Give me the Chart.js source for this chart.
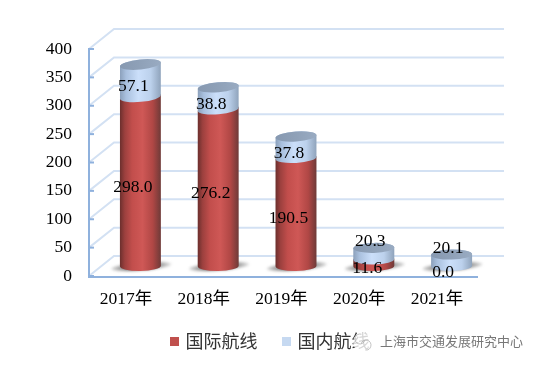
<!DOCTYPE html>
<html><head><meta charset="utf-8">
<script src="https://cdn.jsdelivr.net/npm/chart.js@4"></script>
<style>html,body{margin:0;padding:0;background:#fff}canvas{display:block}</style>
</head><body><canvas id="c" width="540" height="367"></canvas>
<script>
const categories = ['2017年','2018年','2019年','2020年','2021年'];
const international = [298.0,276.2,190.5,11.6,0.0];
const domestic = [57.1,38.8,37.8,20.3,20.1];
const yTicks = [0,50,100,150,200,250,300,350,400];
const watermark = '上海市交通发展研究中心';

const SERIF = "'Liberation Serif','Noto Sans CJK SC',serif";
const DEPTH_X = 25, DEPTH_Y = 20;

function rotFor(h){ return -(0.015 + 0.085*Math.min(h,200)/200); }
function sideGrad(ctx,l,r,stops){
  const g = ctx.createLinearGradient(l,0,r,0);
  stops.forEach(s=>g.addColorStop(s[0],s[1]));
  return g;
}
const RED = [[0,'#6B2F2D'],[.12,'#9C403E'],[.3,'#C24E4C'],[.55,'#CF5856'],[.8,'#B04745'],[1,'#6E3A38']];
const BLUE = [[0,'#8BA0BB'],[.15,'#A9C0DE'],[.45,'#CBDFFA'],[.75,'#BCD1EC'],[1,'#8FA3BB']];

function segment(ctx,cx,rx,ry,by,ty,bh,th,stops){
  ctx.beginPath();
  ctx.ellipse(cx,by,rx,ry,rotFor(bh),0,Math.PI,false);
  ctx.ellipse(cx,ty,rx,ry,rotFor(th),Math.PI,Math.PI*2,false);
  ctx.closePath();
  ctx.fillStyle = sideGrad(ctx,cx-rx,cx+rx,stops);
  ctx.fill();
}

const scene = {
  id:'scene',
  afterLayout(chart){
    const lg = chart.legend;
    const sx = (542-(lg.left+lg.right))/2, sy = 333-(lg.top+lg.bottom)/2;
    lg.left += sx; lg.right += sx; lg.top += sy; lg.bottom += sy;
  },
  beforeDatasetsDraw(chart){
    const {ctx,scales:{x,y}} = chart;
    const L = x.left, R = x.right;
    ctx.save();
    ctx.strokeStyle = '#D3E1F3'; ctx.lineWidth = 2;
    yTicks.forEach(v=>{
      const p = y.getPixelForValue(v);
      ctx.beginPath();
      ctx.moveTo(L,p); ctx.lineTo(L+DEPTH_X,p-DEPTH_Y); ctx.lineTo(R+DEPTH_X+1,p-DEPTH_Y);
      ctx.stroke();
    });
    ctx.strokeStyle = '#8FB1DD';
    yTicks.forEach(v=>{
      const p = y.getPixelForValue(v);
      ctx.beginPath(); ctx.moveTo(L,p); ctx.lineTo(L+5,p); ctx.stroke();
    });
    ctx.beginPath(); ctx.moveTo(L,y.top-1); ctx.lineTo(L,y.bottom+1); ctx.lineTo(R,y.bottom+1); ctx.stroke();

    const m0 = chart.getDatasetMeta(0), m1 = chart.getDatasetMeta(1);
    const dx = DEPTH_X/2, dy = -DEPTH_Y/2;
    categories.forEach((c,i)=>{
      const e0 = m0.data[i], e1 = m1.data[i];
      const cx = e0.x+dx, rx = e0.width/2, ry = 5;
      const base = e0.base+dy;
      const redTop = e0.y+dy, blueTop = e1.y+dy;
      ctx.save();
      ctx.filter = 'blur(1.5px)';
      const sg = ctx.createLinearGradient(cx-30,0,cx+30,0);
      sg.addColorStop(0,'rgba(90,90,90,.25)'); sg.addColorStop(.3,'rgba(70,70,70,.8)');
      sg.addColorStop(.7,'rgba(70,70,70,.8)'); sg.addColorStop(1,'rgba(90,90,90,.25)');
      ctx.fillStyle = sg;
      ctx.beginPath(); ctx.ellipse(cx+1,base+.5,30,3.6,-0.08,0,Math.PI*2); ctx.fill();
      ctx.restore();
      const h0 = base-redTop, h1 = base-blueTop;
      if(international[i]>0) segment(ctx,cx,rx,ry,base,redTop,0,h0,RED);
      segment(ctx,cx,rx,ry,redTop,blueTop,h0,h1,BLUE);
      ctx.beginPath(); ctx.ellipse(cx,blueTop,rx,ry,rotFor(h1),0,Math.PI*2);
      ctx.fillStyle = sideGrad(ctx,cx-rx,cx+rx,[[0,'#8799B1'],[.5,'#8FA1B8'],[1,'#99ABC2']]);
      ctx.fill();
    });
    ctx.restore();
    return false;
  },
  afterDraw(chart){
    const {ctx} = chart;
    const m0 = chart.getDatasetMeta(0), m1 = chart.getDatasetMeta(1);
    ctx.save();
    ctx.font = '17.5px '+SERIF; ctx.fillStyle = '#000';
    ctx.textAlign = 'center'; ctx.textBaseline = 'middle';
    categories.forEach((c,i)=>{
      const e0 = m0.data[i], e1 = m1.data[i];
      const small = international[i] < 50;
      const a = (e0.y+e0.base)/2, b = (e1.y+e1.base)/2;
      ctx.fillText(international[i].toFixed(1), e0.x+(international[i]>0&&!small?5:(international[i]>0?6:4)), a-4);
      ctx.fillText(domestic[i].toFixed(1), e1.x+(small?9:5.5), b-(small?22:4));
    });
    ctx.fillStyle='rgba(255,255,255,.8)';
    ctx.beginPath(); ctx.arc(363,342,10,0,Math.PI*2); ctx.fill();
    ctx.strokeStyle='rgba(170,170,170,.7)'; ctx.lineWidth=1;
    ctx.beginPath(); ctx.arc(360,339,5,.3,5); ctx.stroke();
    ctx.beginPath(); ctx.arc(366,345,5,3.4,8); ctx.stroke();
    ctx.font = "13px 'Noto Sans CJK SC',sans-serif";
    ctx.fillStyle='#777'; ctx.textAlign='left';
    ctx.fillText(watermark,380,341);
    ctx.restore();
  }
};

new Chart(document.getElementById('c'),{
  type:'bar',
  data:{labels:categories,datasets:[
    {label:'国际航线',data:international,backgroundColor:'#C0504D',borderColor:'#C0504D',borderWidth:5,stack:'a',categoryPercentage:1,barPercentage:0.527},
    {label:'国内航线',data:domestic,backgroundColor:'#C6D9F1',borderColor:'#C6D9F1',borderWidth:5,stack:'a',categoryPercentage:1,barPercentage:0.527}
  ]},
  plugins:[scene],
  options:{
    responsive:false,animation:false,
    layout:{padding:{left:0,right:62,top:49,bottom:0}},
    plugins:{
      tooltip:{enabled:false},
      legend:{position:'bottom',labels:{boxWidth:4,boxHeight:4,padding:27,color:'#333',
        font:{family:"'Noto Sans CJK SC',sans-serif",size:18}}}
    },
    scales:{
      x:{stacked:true,grid:{display:false,drawTicks:false},border:{display:false},
        afterFit(s){s.height=36;},
        ticks:{color:'#000',padding:13,labelOffset:-2,maxRotation:0,font:{family:SERIF,size:17.5}}},
      y:{stacked:true,min:0,max:400,grid:{display:false,drawTicks:false},border:{display:false},
        afterFit(s){s.width=89;},
        ticks:{stepSize:50,color:'#000',padding:17,font:{family:SERIF,size:17.5}}}
    }
  }
});
</script></body></html>
